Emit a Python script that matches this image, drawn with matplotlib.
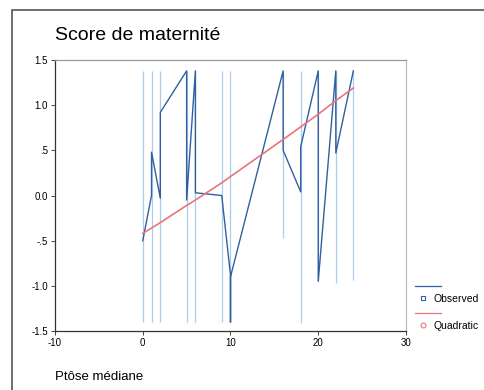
import matplotlib
matplotlib.use("Agg")
from matplotlib import pyplot as plt
from matplotlib.lines import Line2D
from matplotlib.patches import Rectangle

plt.rcParams['font.family'] = ['Liberation Sans', 'DejaVu Sans']

# Observed values: spread of the cases at each x
grp_x = [0, 1, 2, 5, 6, 9, 10, 16, 18, 20, 22, 24]
grp_low = [-1.40, -1.40, -1.40, -1.40, -1.40, -1.40, -1.40, -0.47, -1.41, -0.95, -0.97, -0.93]
grp_high = [1.38, 1.38, 1.38, 1.38, 1.38, 1.38, 1.38, 1.38, 1.38, 1.38, 1.38, 1.38]

# Observed path, joining the cases in order
obs_x = [0, 1, 1, 2, 2, 5, 5, 6, 6, 9, 10, 10, 10, 16, 16, 18, 18, 20, 20, 22, 22, 24]
obs_y = [-0.50, 0.00, 0.48, -0.03, 0.92, 1.38, -0.05, 1.38, 0.03, 0.00, -0.88, -1.40, -0.90,
         1.38, 0.50, 0.04, 0.54, 1.38, -0.95, 1.38, 0.47, 1.38]

# Quadratic fit values at the observed x
fit_x = [0, 1, 2, 5, 6, 9, 10, 16, 18, 20, 22, 24]
fit_y = [-0.42, -0.36, -0.30, -0.11, -0.05, 0.14, 0.21, 0.62, 0.76, 0.90, 1.05, 1.19]

y_ticks = [-1.5, -1.0, -0.5, 0.0, 0.5, 1.0, 1.5]
y_labels = ["-1.5", "-1.0", "-.5", "0.0", ".5", "1.0", "1.5"]
x_ticks = [-10, 0, 10, 20, 30]

dark_blue = "#30609f"
light_blue = "#a9cdef"
red = "#e9757a"

fig = plt.figure(figsize=(4.85, 3.9), dpi=100)
fig.patches.append(Rectangle((12 / 485, -0.1), 1.2, 1 - 10 / 390 + 0.1,
                             transform=fig.transFigure, fill=False,
                             edgecolor="#555555", linewidth=1.2))

ax = fig.add_axes([55 / 485, 59 / 390, 351 / 485, 271 / 390])

ax.vlines(grp_x, grp_low, grp_high, color=light_blue, linewidth=0.9, zorder=2)
ax.plot(obs_x, obs_y, color=dark_blue, linewidth=1.0, zorder=3)
ax.plot(fit_x, fit_y, color=red, linewidth=1.2, zorder=4)

ax.set_xlim(-10, 30)
ax.set_ylim(-1.5, 1.5)
ax.set_xticks(x_ticks)
ax.set_xticklabels([str(v) for v in x_ticks])
ax.set_yticks(y_ticks)
ax.set_yticklabels(y_labels)
ax.tick_params(axis="both", labelsize=7, length=3, width=0.7, color="#444444", pad=2)

ax.spines["left"].set_color("#333333")
ax.spines["bottom"].set_color("#333333")
ax.spines["top"].set_color("#999999")
ax.spines["right"].set_color("#bbbbbb")
for s in ax.spines.values():
    s.set_linewidth(0.9)

fig.text(55 / 485, 1 - 35 / 390, "Score de maternité", fontsize=14,
         ha="left", va="center")
fig.text(55 / 485, 1 - 377 / 390, "Ptôse médiane", fontsize=9.5,
         ha="left", va="center")


# legend drawn at the right, outside the axes
def fx(px):
    return px / 485


def fy(py):
    return 1 - py / 390


fig.lines.append(Line2D([fx(415), fx(441)], [fy(286), fy(286)],
                        transform=fig.transFigure, color=dark_blue, linewidth=0.9))
fig.lines.append(Line2D([fx(423)], [fy(298)], transform=fig.transFigure,
                        marker="s", markersize=3, markerfacecolor="none",
                        markeredgecolor=dark_blue, markeredgewidth=0.8, linestyle="none"))
fig.text(fx(434), fy(299), "Observed", fontsize=7.5, ha="left", va="center")
fig.lines.append(Line2D([fx(415), fx(441)], [fy(313), fy(313)],
                        transform=fig.transFigure, color=red, linewidth=0.9))
fig.lines.append(Line2D([fx(423)], [fy(325)], transform=fig.transFigure,
                        marker="o", markersize=3.5, markerfacecolor="none",
                        markeredgecolor=red, markeredgewidth=0.8, linestyle="none"))
fig.text(fx(434), fy(326), "Quadratic", fontsize=7.5, ha="left", va="center")

fig.savefig("out.png", dpi=100)
